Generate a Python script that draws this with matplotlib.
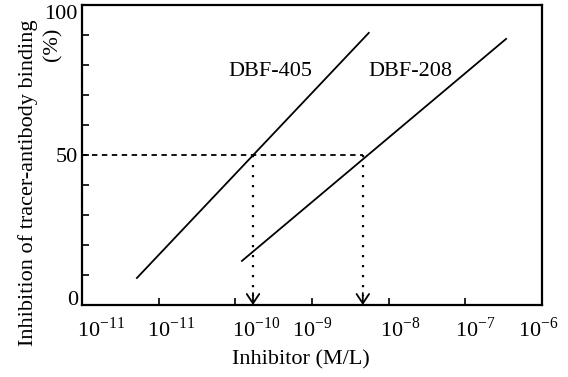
import matplotlib
matplotlib.use('Agg')
import matplotlib.pyplot as plt

# (x in M/L, y in %)
x_405 = [5.2e-12, 5.5e-9]
y_405 = [9.0, 90.7]
x_208 = [1.22e-10, 3.4e-7]
y_208 = [14.7, 88.7]
ic50 = [1.7e-10, 4.6e-9]   # where the 50 % line meets each curve
names = ['DBF-405', 'DBF-208']
name_x = [2.9e-10, 1.9e-8]
name_y = [78, 78]

# tick labels as printed (the original repeats 10^-11)
xtick_labels = [r'$10^{-11}$', r'$10^{-11}$', r'$10^{-10}$', r'$10^{-9}$',
                r'$10^{-8}$', r'$10^{-7}$', r'$10^{-6}$']
xtick_label_pos = [10**-11.75, 10**-10.84, 10**-9.73, 10**-9.0,
                   10**-7.85, 10**-6.87, 10**-6.05]
xtick_marks = [1e-11, 1e-10, 1e-9, 1e-8, 1e-7]

plt.rcParams['font.family'] = ['Liberation Serif', 'DejaVu Serif']
plt.rcParams['mathtext.fontset'] = 'custom'
plt.rcParams['mathtext.rm'] = 'Liberation Serif'
plt.rcParams['font.size'] = 15

fig = plt.figure(figsize=(5.68, 3.77), dpi=100)
ax = fig.add_axes([82/568, 72/377, 460/568, 300/377])

ax.plot(x_405, y_405, color='black', lw=1.3)
ax.plot(x_208, y_208, color='black', lw=1.3)

# 50 % guide lines
ax.plot([1e-12, ic50[1]], [50, 50], color='black', lw=1.3, ls=(0, (3, 2.5)))
for xc in ic50:
    ax.plot([xc, xc], [50, 3], color='black', lw=1.6, ls=(0, (1, 3.5)))
    ax.annotate('', xy=(xc, 0), xytext=(xc, 4),
                arrowprops=dict(arrowstyle='->,head_length=0.45,head_width=0.3',
                                color='black', lw=1.3, shrinkA=0, shrinkB=0))

for name, tx, ty in zip(names, name_x, name_y):
    ax.text(tx, ty, name, ha='center', va='center', fontsize=16)

ax.set_xscale('log')
ax.set_xlim(1e-12, 1e-6)
ax.set_ylim(0, 100)

ax.xaxis.remove_overlapping_locs = False
ax.set_xticks(xtick_marks)
ax.set_xticklabels([])
ax.set_xticks(xtick_label_pos, minor=True)
ax.set_xticklabels(xtick_labels, minor=True)
ax.tick_params(axis='x', which='major', direction='in', length=5, width=1.2)
ax.tick_params(axis='x', which='minor', length=0, pad=9, labelsize=16)

ax.set_yticks([0, 50, 100])
ax.set_yticks(range(10, 100, 10), minor=True)
ax.tick_params(axis='y', which='both', direction='in', length=5, width=1.2,
               pad=3, labelsize=16)
ylabs = ax.get_yticklabels()
ylabs[0].set_va('baseline')
ylabs[2].set_va('top')

for sp in ax.spines.values():
    sp.set_linewidth(1.6)

fig.text(301/568, 1 - 360/377, 'Inhibitor (M/L)', ha='center', va='center',
         fontsize=16)
fig.text(28/568, 1 - 183/377, 'Inhibition of tracer-antibody binding',
         rotation=90, ha='center', va='center', fontsize=16)
fig.text(53/568, 1 - 44/377, '(%)', rotation=90, ha='center', va='center',
         fontsize=16)

fig.savefig('out.png', dpi=100)
